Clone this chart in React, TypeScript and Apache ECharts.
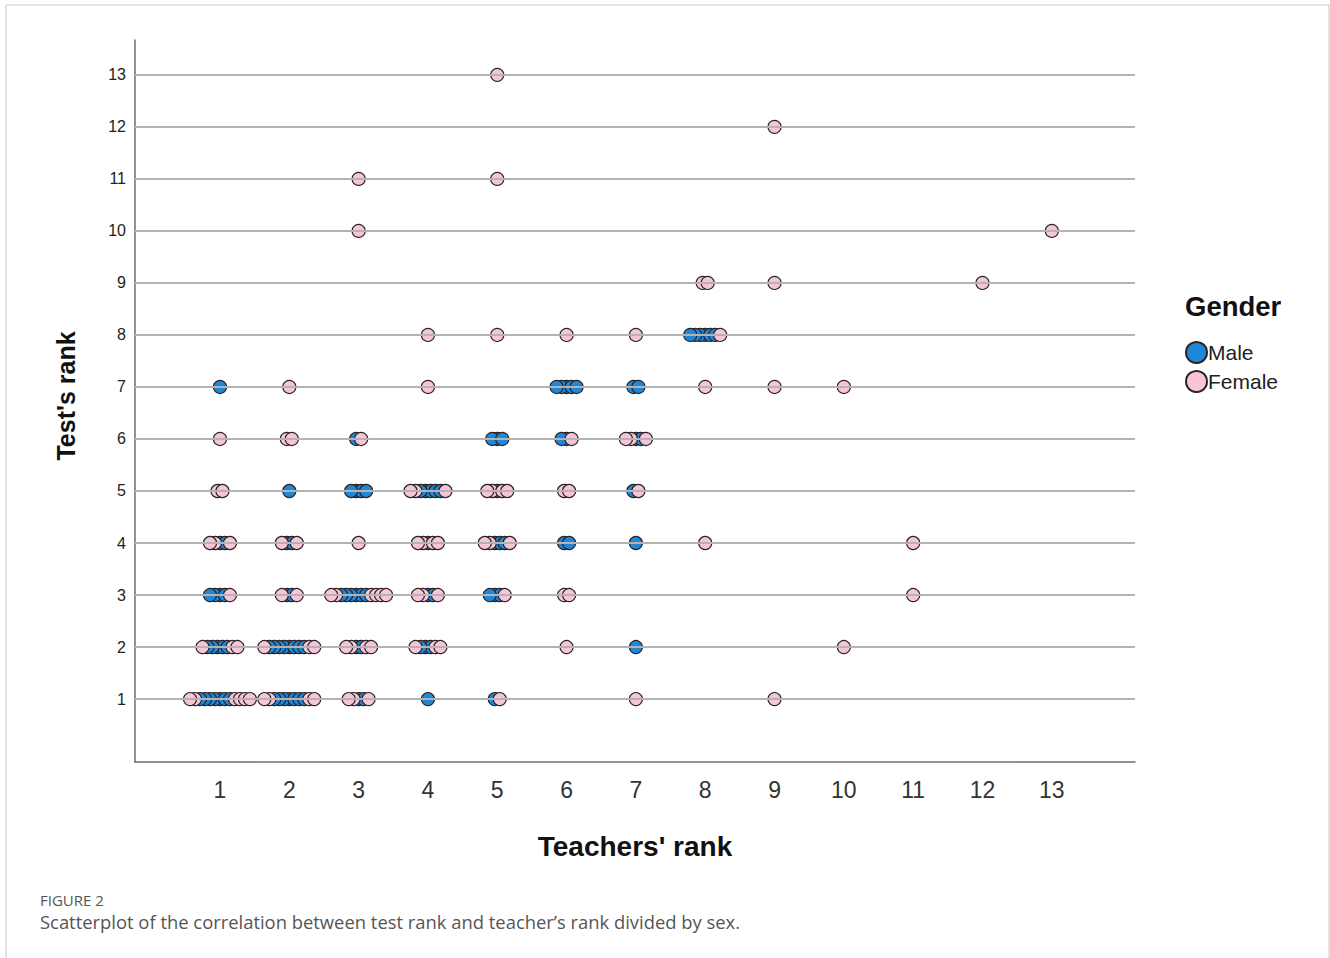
import React, { useEffect, useRef } from "react";
import * as echarts from "echarts";

// Each cell: teacher's rank, test's rank, and the left-to-right order of genders (M = Male, F = Female)
const teacherRank = [
  1, 2, 3, 4, 5, 7, 9,
  1, 2, 3, 4, 6, 7, 10,
  1, 2, 3, 4, 5, 6, 11,
  1, 2, 3, 4, 5, 6, 7, 8, 11,
  1, 2, 3, 4, 5, 6, 7,
  1, 2, 3, 5, 6, 7,
  1, 2, 4, 6, 7, 8, 9, 10,
  4, 5, 6, 7, 8,
  8, 9, 12,
  3, 13,
  3, 5,
  9,
  5,
];
const testRank = [
  1, 1, 1, 1, 1, 1, 1,
  2, 2, 2, 2, 2, 2, 2,
  3, 3, 3, 3, 3, 3, 3,
  4, 4, 4, 4, 4, 4, 4, 4, 4,
  5, 5, 5, 5, 5, 5, 5,
  6, 6, 6, 6, 6, 6,
  7, 7, 7, 7, 7, 7, 7, 7,
  8, 8, 8, 8, 8,
  9, 9, 9,
  10, 10,
  11, 11,
  12,
  13,
];
const genderOrder = [
  "FFMMMMMMMFFFF", "FFMMMMMMMFF", "FFMMF", "M", "MF", "F", "F",
  "FMMMMMFF", "FMMMMMMMMFF", "FFMMFF", "FMMMFF", "F", "M", "F",
  "MMMMF", "FMMF", "FFMMMMMMFFFF", "FFMMF", "MMMF", "FF", "F",
  "FFMMF", "FMMF", "F", "FFMFF", "FFMMMF", "MM", "M", "F", "F",
  "FF", "M", "MMMM", "FFMMMMMF", "FFMFF", "FF", "MF",
  "F", "FF", "MF", "MMM", "MMF", "FFMMF",
  "M", "F", "F", "MMMMM", "MM", "F", "F", "F",
  "F", "F", "F", "F", "MMMMMMF",
  "FF", "F", "F",
  "F", "F",
  "F", "F",
  "F",
  "F",
];
const xTickLabels = [1, 2, 3, 4, 5, 6, 7, 8, 9, 10, 11, 12, 13];
const yTickLabels = [1, 2, 3, 4, 5, 6, 7, 8, 9, 10, 11, 12, 13];

const STEP = 0.072; // horizontal spacing between stacked dots, in teacher-rank units

function buildPoints() {
  const male: { v: number[]; d: number }[] = [];
  const female: { v: number[]; d: number }[] = [];
  teacherRank.forEach((tx, k) => {
    const seq = genderOrder[k];
    const n = seq.length;
    for (let i = 0; i < n; i++) {
      const off = (i - (n - 1) / 2) * STEP;
      const p = { v: [tx + off, testRank[k]], d: Math.abs(off) };
      if (seq[i] === "M") male.push(p);
      else female.push(p);
    }
  });
  male.sort((a, b) => a.d - b.d);
  female.sort((a, b) => a.d - b.d);
  return { male: male.map((p) => p.v), female: female.map((p) => p.v) };
}

export default function App() {
  const ref = useRef<HTMLDivElement>(null);
  useEffect(() => {
    if (!ref.current) return;
    const chart = echarts.init(ref.current, null, { renderer: "svg" });
    const pts = buildPoints();
    const font = "Liberation Sans, Arial, sans-serif";
    chart.setOption({
      animation: false,
      backgroundColor: "#ffffff",
      grid: { left: 135, top: 40, width: 1000, height: 722 },
      xAxis: {
        type: "value",
        min: -0.226,
        max: 14.2,
        axisLine: { show: true, onZero: false, lineStyle: { color: "#6e6e6e", width: 1.5 } },
        axisTick: { show: false },
        splitLine: { show: false },
        axisLabel: {
          customValues: xTickLabels,
          fontSize: 23,
          color: "#333",
          fontFamily: font,
          margin: 16,
        },
      },
      yAxis: {
        type: "value",
        min: -0.21,
        max: 13.67,
        axisLine: { show: true, onZero: false, lineStyle: { color: "#6e6e6e", width: 1.5 } },
        axisTick: { show: false },
        splitLine: { show: false },
        axisLabel: {
          customValues: yTickLabels,
          fontSize: 16,
          color: "#222",
          fontFamily: font,
          margin: 9,
        },
      },
      legend: {
        orient: "vertical",
        left: 1180,
        top: 336,
        itemWidth: 21,
        itemHeight: 21,
        itemGap: 6,
        icon: "circle",
        textStyle: { fontSize: 21, color: "#222", fontFamily: font, padding: [0, 0, 0, -4] },
        data: ["Male", "Female"],
      },
      graphic: [
        {
          type: "rect",
          shape: { x: 6, y: 5, width: 1323, height: 965 },
          style: { fill: "none", stroke: "#c8c8c8", lineWidth: 1 },
          silent: true,
        },
        {
          type: "text",
          left: 1185,
          top: 292,
          style: { text: "Gender", fill: "#111", font: `bold 27.5px ${font}` },
        },
        {
          type: "text",
          x: 635,
          y: 846,
          style: {
            text: "Teachers' rank",
            font: `bold 28px ${font}`,
            fill: "#111",
            align: "center",
            verticalAlign: "middle",
          },
        },
        {
          type: "text",
          x: 66,
          y: 396,
          rotation: Math.PI / 2,
          style: {
            text: "Test's rank",
            font: `bold 25px "Liberation Sans Narrow", "Liberation Sans", Arial, sans-serif`,
            fill: "#111",
            align: "center",
            verticalAlign: "middle",
          },
        },
        {
          type: "text",
          left: 40,
          top: 892,
          style: { text: "FIGURE 2", font: `15px "Open Sans", sans-serif`, fill: "#555" },
        },
        {
          type: "text",
          left: 40,
          top: 912,
          style: {
            text: "Scatterplot of the correlation between test rank and teacher\u2019s rank divided by sex.",
            font: `18.4px "Open Sans", sans-serif`,
            fill: "#555",
          },
        },
      ],
      series: [
        {
          type: "line",
          silent: true,
          symbol: "none",
          data: [],
          markLine: {
            silent: true,
            symbol: "none",
            label: { show: false },
            lineStyle: { color: "#b3b3b3", width: 2, type: "solid" },
            data: yTickLabels.map((v) => ({ yAxis: v })),
          },
        },
        {
          name: "Male",
          type: "scatter",
          symbol: "circle",
          symbolSize: 13,
          itemStyle: { color: "#1f87d6", borderColor: "#2b2226", borderWidth: 1.2, opacity: 1 },
          data: pts.male,
        },
        {
          name: "Female",
          type: "scatter",
          symbol: "circle",
          symbolSize: 13,
          itemStyle: { color: "#f8c5d8", borderColor: "#2b2226", borderWidth: 1.2, opacity: 1 },
          data: pts.female,
        },
      ],
    });
    return () => chart.dispose();
  }, []);
  return (
    <div
      ref={ref}
      style={{ position: "fixed", left: 0, top: 0, width: 1330, height: 958 }}
    />
  );
}
